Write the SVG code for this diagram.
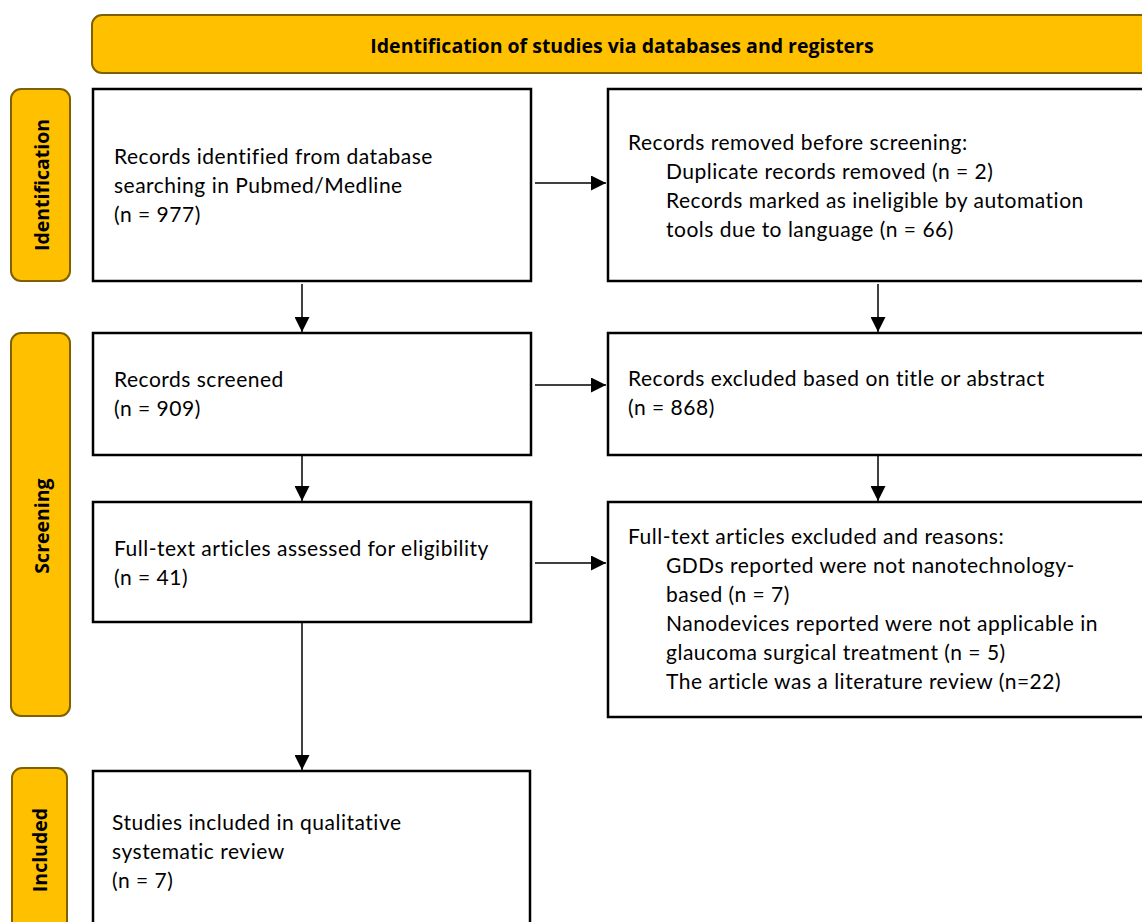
<svg xmlns="http://www.w3.org/2000/svg" width="1142" height="922" viewBox="0 0 1142 922">
<defs>
<marker id="ah" markerWidth="15" markerHeight="15" refX="15" refY="7.5" orient="auto" markerUnits="userSpaceOnUse" viewBox="0 0 15 15"><path d="M0,0 L15,7.5 L0,15 z" fill="#000"/></marker>
<style>
.band{fill:#FFC000;stroke:#7F6000;stroke-width:2}
.box{fill:#fff;stroke:#000;stroke-width:2.5}
.t{font-family:Lato,"Open Sans",sans-serif;font-size:21px;letter-spacing:0.5px;fill:#000}
.h{font-family:"Open Sans",Lato,sans-serif;font-size:19.5px;font-weight:bold;fill:#000}
.c{stroke:#000;stroke-width:1.5;fill:none;marker-end:url(#ah)}
</style>
</defs>
<rect width="1142" height="922" fill="#fff"/>
<g id="banner"><rect class="band" x="92" y="15" width="1070" height="58" rx="10"/><text class="h" x="622" y="53" text-anchor="middle">Identification of studies via databases and registers</text></g>
<g id="lbl-identification"><rect class="band" x="11" y="89" width="59" height="192" rx="10"/><text class="h" transform="translate(49,185) rotate(-90)" text-anchor="middle">Identification</text></g>
<g id="lbl-screening"><rect class="band" x="11" y="333" width="59" height="383" rx="10"/><text class="h" transform="translate(49,526) rotate(-90)" text-anchor="middle">Screening</text></g>
<g id="lbl-included"><rect class="band" x="12" y="768" width="55" height="180" rx="10"/><text class="h" transform="translate(47,850) rotate(-90)" text-anchor="middle">Included</text></g>
<g id="identified"><rect class="box" x="93" y="89" width="438" height="192"/><text class="t"><tspan x="114" y="164">Records identified from database</tspan><tspan x="114" y="193">searching in Pubmed/Medline</tspan><tspan x="114" y="222">(n = 977)</tspan></text></g>
<g id="removed"><rect class="box" x="608" y="89" width="560" height="192"/><text class="t"><tspan x="628" y="150">Records removed before screening:</tspan><tspan x="666" y="179">Duplicate records removed (n = 2)</tspan><tspan x="666" y="208">Records marked as ineligible by automation</tspan><tspan x="666" y="237">tools due to language (n = 66)</tspan></text></g>
<g id="screened"><rect class="box" x="93" y="333" width="438" height="122"/><text class="t"><tspan x="114" y="387">Records screened</tspan><tspan x="114" y="416">(n = 909)</tspan></text></g>
<g id="excluded"><rect class="box" x="608" y="333" width="560" height="122"/><text class="t"><tspan x="628" y="386">Records excluded based on title or abstract</tspan><tspan x="628" y="415">(n = 868)</tspan></text></g>
<g id="fulltext"><rect class="box" x="93" y="502" width="438" height="120"/><text class="t"><tspan x="114" y="556">Full-text articles assessed for eligibility</tspan><tspan x="114" y="585">(n = 41)</tspan></text></g>
<g id="ftexcluded"><rect class="box" x="608" y="502" width="560" height="215"/><text class="t"><tspan x="628" y="544">Full-text articles excluded and reasons:</tspan><tspan x="666" y="573">GDDs reported were not nanotechnology-</tspan><tspan x="666" y="602">based (n = 7)</tspan><tspan x="666" y="631">Nanodevices reported were not applicable in</tspan><tspan x="666" y="660">glaucoma surgical treatment (n = 5)</tspan><tspan x="666" y="689">The article was a literature review (n=22)</tspan></text></g>
<g id="included"><rect class="box" x="93" y="771" width="437" height="180"/><text class="t"><tspan x="112" y="830">Studies included in qualitative</tspan><tspan x="112" y="859">systematic review</tspan><tspan x="112" y="888">(n = 7)</tspan></text></g>
<g id="connectors">
<line class="c" x1="535" y1="183" x2="606" y2="183"/>
<line class="c" x1="535" y1="385" x2="606" y2="385"/>
<line class="c" x1="535" y1="563" x2="606" y2="563"/>
<line class="c" x1="302" y1="284" x2="302" y2="332"/>
<line class="c" x1="878" y1="284" x2="878" y2="332"/>
<line class="c" x1="302" y1="455" x2="302" y2="501"/>
<line class="c" x1="878" y1="455" x2="878" y2="501"/>
<line class="c" x1="302" y1="622" x2="302" y2="770"/>
</g>
</svg>
